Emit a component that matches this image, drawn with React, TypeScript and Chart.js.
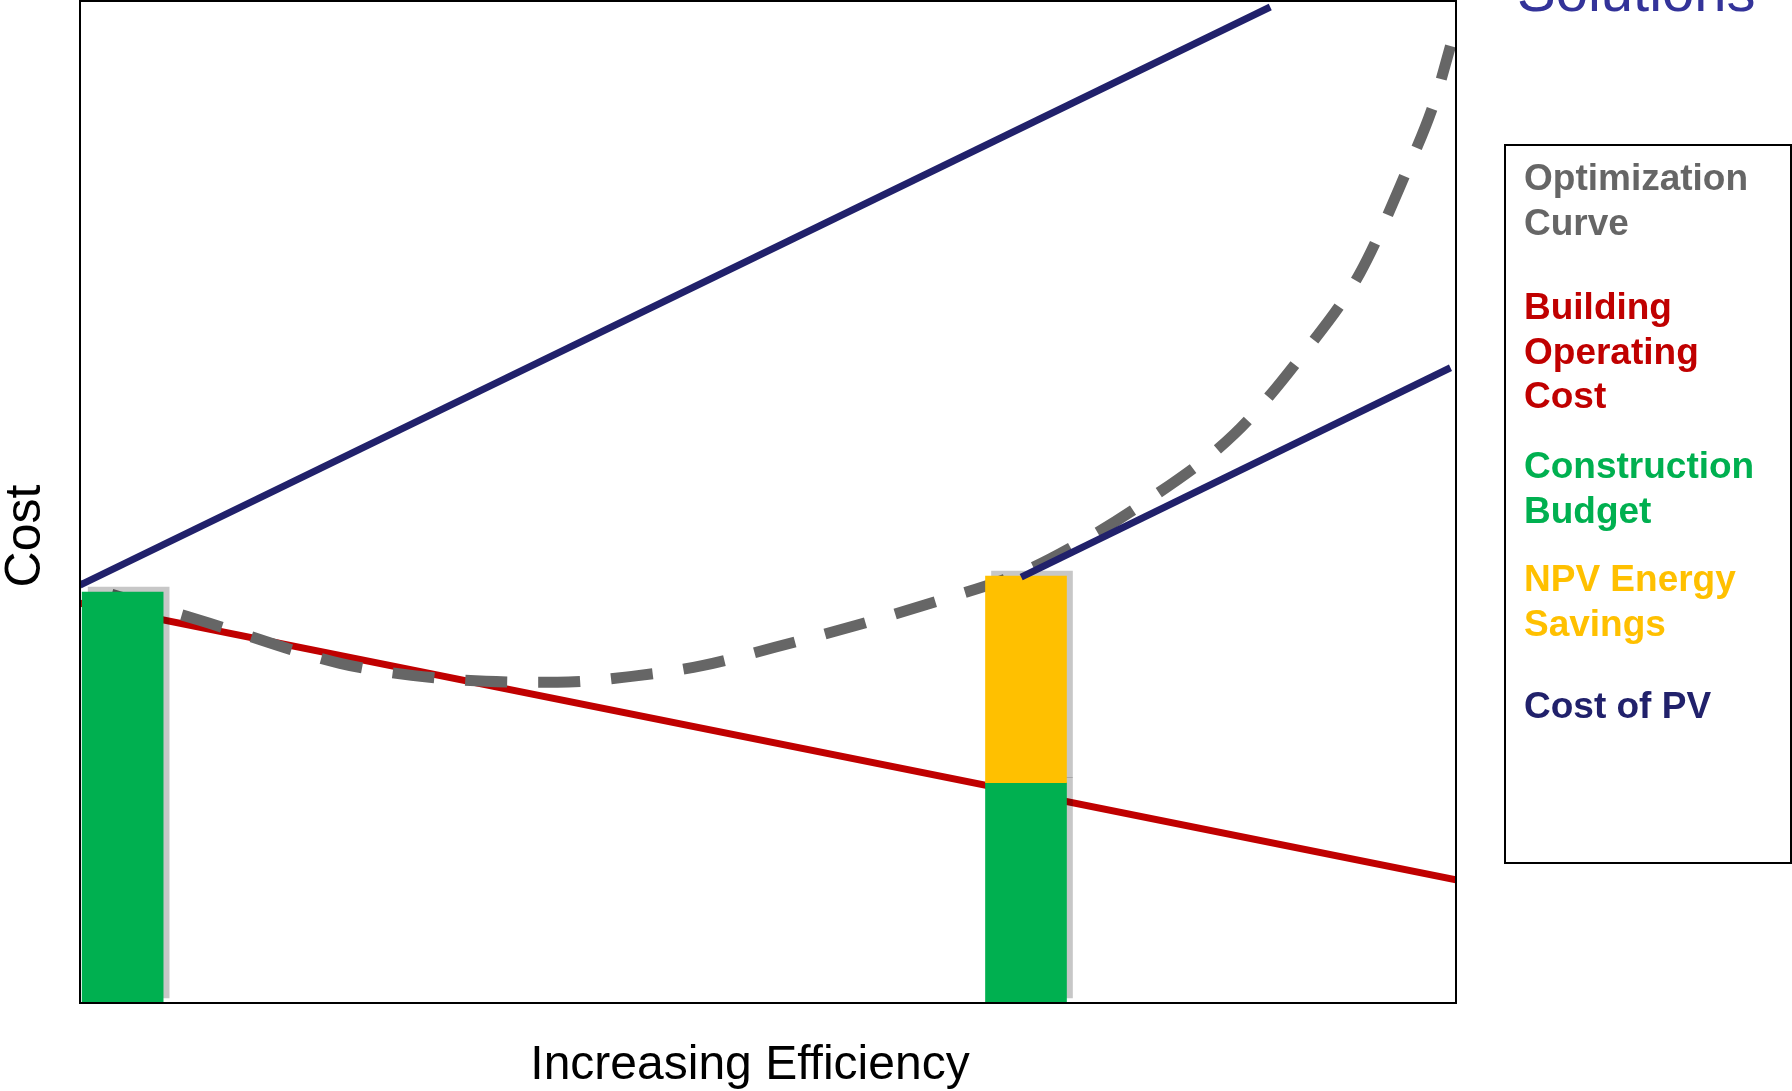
import React, { useEffect, useRef } from "react";
import { Chart, registerables } from "chart.js";

Chart.register(...registerables);

// ---------------- Data (chart units: x 0–100 efficiency, y 0–100 cost) ----------------
const pvCostUpperX = [0, 86.5];
const pvCostUpperY = [41.7, 99.4];
const pvCostLowerX = [68.4, 99.6];
const pvCostLowerY = [42.5, 63.4];
const operatingCostX = [0, 100];
const operatingCostY = [39.9, 12.3];
const optimizationX = [0, 8.7, 18.9, 24.1, 29.5, 34.7, 40.1, 45.3, 50.5, 56.7, 62.5, 68.0, 72.1, 77.3, 83.9, 88.9, 93.0, 96.4, 98.4, 99.6];
const optimizationY = [41.7, 38.2, 33.9, 32.7, 32.1, 32.0, 32.6, 33.7, 35.5, 37.8, 40.2, 42.7, 45.5, 49.9, 56.8, 64.8, 72.8, 83.0, 89.8, 95.5];
const barX = [3.1, 68.75];
const constructionBudget = [41.0, 22.0];
const npvEnergySavingsTop: (number | null)[] = [null, 42.6];

const legendLines = [
  ["Optimization", "Curve"],
  ["Building", "Operating", "Cost"],
  ["Construction", "Budget"],
  ["NPV Energy", "Savings"],
  ["Cost of PV"],
];
const legendColors = ["#666666", "#c00000", "#00b050", "#ffc000", "#21216b"];
const xTitle = "Increasing Efficiency";
const yTitle = "Cost";
const topTitle = "Solutions";

// ---------------- Layout ----------------
const W = 1792;
const H = 1091;
const AREA = { left: 80, top: 1, right: 1456, bottom: 1003 };
const legendBaselines = [[190, 235], [319, 364, 408], [478, 523], [591, 636], [718]];
const FONT = "'Liberation Sans', Arial, Helvetica, sans-serif";

const pts = (xs: number[], ys: number[]) => xs.map((x, i) => ({ x, y: ys[i] }));

const barShadow = {
  id: "barShadow",
  beforeDatasetDraw(chart: any, args: any) {
    const ds = chart.data.datasets[args.index];
    if (ds.type === "bar") {
      const ctx = chart.ctx;
      ctx.save();
      ctx.shadowColor = "rgba(0,0,0,0.22)";
      ctx.shadowOffsetX = 6;
      ctx.shadowOffsetY = -5;
      ctx.shadowBlur = 0;
    }
  },
  afterDatasetDraw(chart: any, args: any) {
    const ds = chart.data.datasets[args.index];
    if (ds.type === "bar") chart.ctx.restore();
  },
};

const frame = {
  id: "frame",
  afterDatasetsDraw(chart: any) {
    const { ctx, chartArea } = chart;
    ctx.save();
    ctx.strokeStyle = "#000";
    ctx.lineWidth = 2;
    ctx.strokeRect(chartArea.left, chartArea.top, chartArea.right - chartArea.left, chartArea.bottom - chartArea.top);
    ctx.restore();
  },
};

function ChartCanvas() {
  const ref = useRef<HTMLCanvasElement | null>(null);
  useEffect(() => {
    if (!ref.current) return;
    const yellow = barX
      .map((x, i) => (npvEnergySavingsTop[i] == null ? null : { x, y: [constructionBudget[i], npvEnergySavingsTop[i]] }))
      .filter(Boolean);
    const chart = new Chart(ref.current, {
      type: "line",
      data: {
        datasets: [
          {
            type: "line",
            label: "Building Operating Cost",
            data: pts(operatingCostX, operatingCostY),
            borderColor: "#c00000",
            borderWidth: 7,
            pointRadius: 0,
            order: 6,
          },
          {
            type: "line",
            label: "Optimization Curve",
            data: pts(optimizationX, optimizationY),
            borderColor: "#666666",
            borderWidth: 11,
            borderDash: [42, 31],
            borderDashOffset: 40,
            borderCapStyle: "butt",
            cubicInterpolationMode: "monotone",
            pointRadius: 0,
            order: 5,
          },
          {
            type: "bar",
            label: "Construction Budget",
            data: pts(barX, constructionBudget),
            backgroundColor: "#00b050",
            borderWidth: 0,
            barThickness: 81,
            grouped: false,
            order: 4,
          },
          {
            type: "bar",
            label: "NPV Energy Savings",
            data: yellow as any,
            backgroundColor: "#ffc000",
            borderWidth: 0,
            barThickness: 81,
            grouped: false,
            order: 3,
          },
          {
            type: "line",
            label: "Cost of PV",
            data: pts(pvCostUpperX, pvCostUpperY),
            borderColor: "#21216b",
            borderWidth: 7,
            pointRadius: 0,
            order: 1,
          },
          {
            type: "line",
            label: "Cost of PV (with savings)",
            data: pts(pvCostLowerX, pvCostLowerY),
            borderColor: "#21216b",
            borderWidth: 7,
            pointRadius: 0,
            order: 1,
          },
        ] as any,
      },
      options: {
        responsive: false,
        animation: false,
        events: [],
        layout: {
          padding: { left: AREA.left, top: AREA.top, right: W - AREA.right, bottom: H - AREA.bottom },
        },
        scales: {
          x: { type: "linear", min: 0, max: 100, display: false, offset: false },
          y: { type: "linear", min: 0, max: 100, display: false },
        },
        plugins: { legend: { display: false }, tooltip: { enabled: false }, title: { display: false } },
      } as any,
      plugins: [barShadow, frame],
    });
    return () => chart.destroy();
  }, []);
  return <canvas ref={ref} width={W} height={H} style={{ position: "absolute", left: 0, top: 0, width: W, height: H }} />;
}

const textTop = (baseline: number, size: number) => baseline - 0.8465 * size;

export default function App() {
  const legendSize = 37;
  return (
    <div style={{ position: "fixed", left: 0, top: 0, width: W, height: H, overflow: "hidden", background: "#fff", fontFamily: FONT }}>
      <ChartCanvas />
      <div
        style={{
          position: "absolute",
          left: 1517,
          top: textTop(11, 58),
          fontSize: 58,
          lineHeight: "58px",
          color: "#333399",
          whiteSpace: "nowrap",
        }}
      >
        {topTitle}
      </div>
      <div
        style={{
          position: "absolute",
          left: 1504,
          top: 144,
          width: 288,
          height: 720,
          boxSizing: "border-box",
          border: "2px solid #000",
        }}
      />
      {legendLines.map((group, gi) =>
        group.map((line, li) => (
          <div
            key={`${gi}-${li}`}
            style={{
              position: "absolute",
              left: 1524,
              top: textTop(legendBaselines[gi][li], legendSize),
              fontSize: legendSize,
              lineHeight: `${legendSize}px`,
              fontWeight: "bold",
              color: legendColors[gi],
              whiteSpace: "nowrap",
            }}
          >
            {line}
          </div>
        ))
      )}
      <div
        style={{
          position: "absolute",
          left: 350,
          width: 800,
          top: textTop(1080, 48),
          fontSize: 48,
          lineHeight: "48px",
          textAlign: "center",
          color: "#000",
        }}
      >
        {xTitle}
      </div>
      <div
        style={{
          position: "absolute",
          left: 23 - 100,
          top: 536 - 25,
          width: 200,
          height: 50,
          fontSize: 50,
          lineHeight: "50px",
          textAlign: "center",
          transform: "rotate(-90deg)",
          color: "#000",
        }}
      >
        {yTitle}
      </div>
    </div>
  );
}
